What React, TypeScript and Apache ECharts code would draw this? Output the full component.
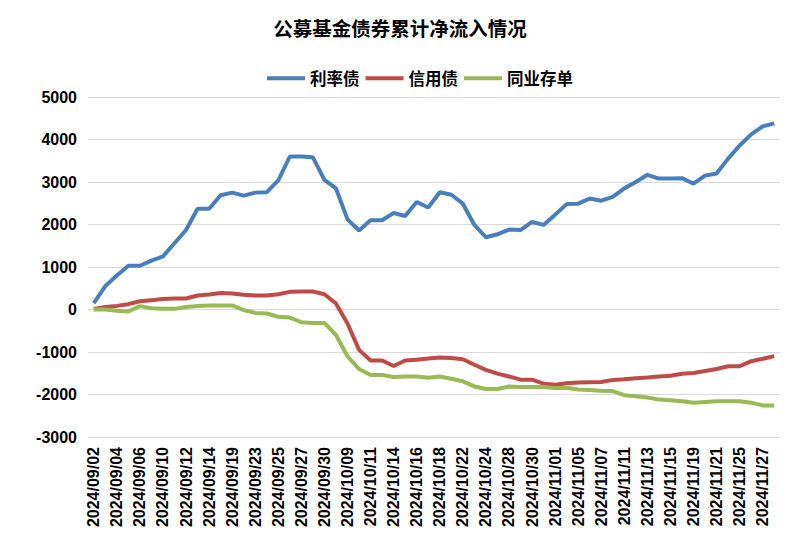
import React, { useEffect, useRef } from "react";
import * as echarts from "echarts";

const dates = [
  "2024/09/02", "2024/09/03", "2024/09/04", "2024/09/05", "2024/09/06", "2024/09/09", "2024/09/10", "2024/09/11",
  "2024/09/12", "2024/09/13", "2024/09/14", "2024/09/18", "2024/09/19", "2024/09/20", "2024/09/23", "2024/09/24",
  "2024/09/25", "2024/09/26", "2024/09/27", "2024/09/29", "2024/09/30", "2024/10/08", "2024/10/09", "2024/10/10",
  "2024/10/11", "2024/10/12", "2024/10/14", "2024/10/15", "2024/10/16", "2024/10/17", "2024/10/18", "2024/10/21",
  "2024/10/22", "2024/10/23", "2024/10/24", "2024/10/25", "2024/10/28", "2024/10/29", "2024/10/30", "2024/10/31",
  "2024/11/01", "2024/11/04", "2024/11/05", "2024/11/06", "2024/11/07", "2024/11/08", "2024/11/11", "2024/11/12",
  "2024/11/13", "2024/11/14", "2024/11/15", "2024/11/18", "2024/11/19", "2024/11/20", "2024/11/21", "2024/11/22",
  "2024/11/25", "2024/11/26", "2024/11/27", "2024/11/28",
];

const rateBond = [
  150, 550, 800, 1030, 1030, 1150, 1250, 1560, 1870, 2370, 2370, 2690, 2750, 2680, 2750, 2760,
  3040, 3600, 3600, 3580, 3050, 2850, 2120, 1860, 2100, 2100, 2270, 2200, 2530, 2400, 2760, 2700,
  2490, 1990, 1700, 1770, 1880, 1870, 2060, 1990, 2230, 2480, 2490, 2610, 2560, 2650, 2850, 3000,
  3170, 3080, 3080, 3090, 2960, 3150, 3200, 3550, 3860, 4120, 4310, 4380,
];

const creditBond = [
  10, 60, 85, 125, 195, 220, 245, 260, 260, 330, 355, 390, 375, 345, 330, 330,
  360, 415, 425, 425, 360, 140, -330, -950, -1200, -1200, -1330, -1200, -1185, -1155, -1130, -1140,
  -1170, -1300, -1420, -1510, -1575, -1650, -1650, -1745, -1770, -1736, -1720, -1712, -1704, -1656, -1640, -1616,
  -1600, -1576, -1560, -1512, -1496, -1448, -1400, -1336, -1336, -1216, -1160, -1096,
];

const ncd = [
  0, 0, -30, -45, 80, 30, 15, 15, 60, 80, 95, 95, 95, -15, -80, -95,
  -170, -190, -300, -315, -315, -600, -1100, -1400, -1540, -1540, -1590, -1575, -1575, -1605, -1575, -1630,
  -1690, -1810, -1870, -1870, -1810, -1825, -1825, -1825, -1850, -1840, -1880, -1896, -1912, -1920, -2016, -2040,
  -2072, -2120, -2136, -2160, -2192, -2176, -2160, -2160, -2160, -2192, -2256, -2256,
];

const seriesNames = ["利率债", "信用债", "同业存单"];
const seriesColors = ["#4A7EBB", "#BE4B48", "#98B954"];

const FONT = "'Liberation Sans', Arial, 'Noto Sans CJK SC', sans-serif";
const CJK = "'Noto Sans CJK SC', sans-serif";

export default function App() {
  const ref = useRef<HTMLDivElement>(null);

  useEffect(() => {
    if (!ref.current) return;
    const chart = echarts.init(ref.current, undefined, { renderer: "svg" });
    const datasets = [rateBond, creditBond, ncd];
    chart.setOption({
      animation: false,
      backgroundColor: "#ffffff",
      textStyle: { fontFamily: FONT },
      title: {
        text: "公募基金债券累计净流入情况",
        left: "center",
        top: 13,
        textStyle: { fontSize: 19.5, fontWeight: "bold", color: "#000", fontFamily: CJK },
      },
      legend: {
        left: 262,
        top: 65,
        itemWidth: 38,
        itemHeight: 4,
        itemGap: 6,
        icon: "rect",
        data: seriesNames,
        textStyle: { fontSize: 16.5, fontWeight: "bold", color: "#000", fontFamily: CJK },
      },
      grid: { left: 88, right: 20, top: 97, bottom: 114, containLabel: false },
      xAxis: {
        type: "category",
        data: dates,
        boundaryGap: true,
        axisLine: { show: false },
        axisTick: { show: false },
        axisLabel: {
          interval: 1,
          rotate: 90,
          margin: 10,
          fontSize: 16,
          fontWeight: "bold",
          color: "#000",
          fontFamily: FONT,
        },
        splitLine: { show: false },
      },
      yAxis: {
        type: "value",
        min: -3000,
        max: 5000,
        interval: 1000,
        axisLine: { show: false },
        axisTick: { show: false },
        axisLabel: {
          margin: 11,
          fontSize: 16,
          fontWeight: "bold",
          color: "#000",
          fontFamily: FONT,
          formatter: (v: number) => String(v),
        },
        splitLine: { lineStyle: { color: "#D9D9D9", width: 1.2 } },
      },
      series: seriesNames.map((name, i) => ({
        name,
        type: "line",
        data: datasets[i],
        showSymbol: false,
        symbol: "none",
        lineStyle: { width: 4, color: seriesColors[i] },
        itemStyle: { color: seriesColors[i] },
      })),
    });
    return () => chart.dispose();
  }, []);

  return (
    <div
      ref={ref}
      style={{ position: "fixed", left: 0, top: 0, width: 800, height: 551, background: "#fff" }}
    />
  );
}
